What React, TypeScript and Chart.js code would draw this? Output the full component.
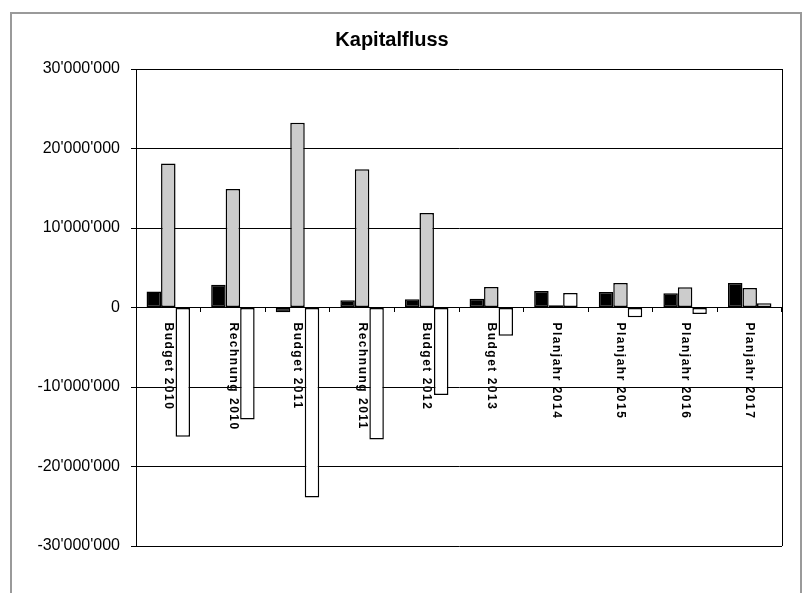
import React, { useEffect, useRef } from 'react';
import { Chart, registerables } from 'chart.js';

Chart.register(...registerables);

const title = 'Kapitalfluss';
const categories = [
  'Budget 2010',
  'Rechnung 2010',
  'Budget 2011',
  'Rechnung 2011',
  'Budget 2012',
  'Budget 2013',
  'Planjahr 2014',
  'Planjahr 2015',
  'Planjahr 2016',
  'Planjahr 2017',
];
const seriesBlack = [2000000, 2870000, -600000, 900000, 1030000, 1100000, 2080000, 1950000, 1780000, 3080000];
const seriesGray = [18100000, 14900000, 23250000, 17400000, 11900000, 2580000, 280000, 3080000, 2540000, 2450000];
const seriesWhite = [-16250000, -14100000, -23900000, -16600000, -11000000, -3550000, 1820000, -1230000, -820000, 530000];
const yMin = -30000000;
const yMax = 30000000;
const yStep = 10000000;

function fmt(v: number): string {
  const s = Math.abs(Math.round(v)).toString().replace(/\B(?=(\d{3})+(?!\d))/g, "'");
  return (v < 0 ? '-' : '') + s;
}

const labelPlugin = {
  id: 'catLabels',
  afterDraw(chart: any) {
    const { ctx, scales, chartArea } = chart;
    const x = scales.x;
    const y = scales.y;
    const y0 = y.getPixelForValue(0);
    ctx.save();
    // right border of plot area
    ctx.strokeStyle = '#000';
    ctx.lineWidth = 1;
    ctx.beginPath();
    ctx.moveTo(Math.round(chartArea.right) + 0.5, chartArea.top);
    ctx.lineTo(Math.round(chartArea.right) + 0.5, chartArea.bottom);
    ctx.stroke();
    ctx.font = 'bold 12px "Liberation Sans", Arial, sans-serif';
    try { (ctx as any).letterSpacing = '1.5px'; } catch (e) {}
    ctx.fillStyle = '#000';
    ctx.textAlign = 'left';
    ctx.textBaseline = 'middle';
    categories.forEach((c, i) => {
      const px = x.getPixelForValue(i);
      ctx.save();
      ctx.translate(px, y0 + 15);
      ctx.rotate(Math.PI / 2);
      ctx.fillText(c, 0, 0);
      ctx.restore();
    });
    ctx.restore();
  },
};

export default function App() {
  const ref = useRef<HTMLCanvasElement>(null);
  useEffect(() => {
    if (!ref.current) return;
    const chart = new Chart(ref.current, {
      type: 'bar',
      data: {
        labels: categories,
        datasets: [
          { label: 'A', data: seriesBlack, backgroundColor: '#000000', borderColor: '#000', borderWidth: 1.5, borderSkipped: false },
          { label: 'B', data: seriesGray, backgroundColor: '#CCCCCC', borderColor: '#000', borderWidth: 1.5, borderSkipped: false },
          { label: 'C', data: seriesWhite, backgroundColor: '#FFFFFF', borderColor: '#000', borderWidth: 1.5, borderSkipped: false },
        ],
      },
      options: {
        animation: false,
        responsive: true,
        maintainAspectRatio: false,
        layout: { padding: { left: 2, right: 26, top: 0, bottom: 47 } },
        datasets: { bar: { categoryPercentage: 0.673, barPercentage: 1.0 } },
        plugins: {
          legend: { display: false },
          tooltip: { enabled: false },
          title: {
            display: true,
            text: title,
            color: '#000',
            font: { family: '"Liberation Sans", Arial, sans-serif', size: 20, weight: 'bold' },
            padding: { top: 28, bottom: 17 },
          },
        },
        scales: {
          x: {
            position: { y: 0 } as any,
            grid: { display: true, drawOnChartArea: false, drawTicks: true, tickLength: 4, color: '#000', offset: true },
            border: { display: true, color: '#000', width: 1 },
            ticks: { display: false },
          },
          y: {
            min: yMin,
            max: yMax,
            afterFit: (s: any) => { s.width = 134; },
            ticks: {
              stepSize: yStep,
              color: '#000',
              padding: 11,
              font: { family: '"Liberation Sans", Arial, sans-serif', size: 16 },
              callback: (v: any) => fmt(Number(v)),
            },
            grid: { color: '#000', lineWidth: 1, tickLength: 5, drawTicks: true },
            border: { display: true, color: '#000', width: 1 },
          },
        },
      },
      plugins: [labelPlugin],
    });
    return () => chart.destroy();
  }, []);

  return (
    <>
      <div
        style={{
          position: 'absolute',
          left: 10,
          top: 12,
          width: 792,
          height: 581,
          boxSizing: 'border-box',
          border: '2px solid #9a9a9a',
          borderBottom: 'none',
        }}
      />
      <div style={{ position: 'absolute', left: 0, top: 0, width: 808, height: 593 }}>
        <canvas ref={ref} />
      </div>
    </>
  );
}
